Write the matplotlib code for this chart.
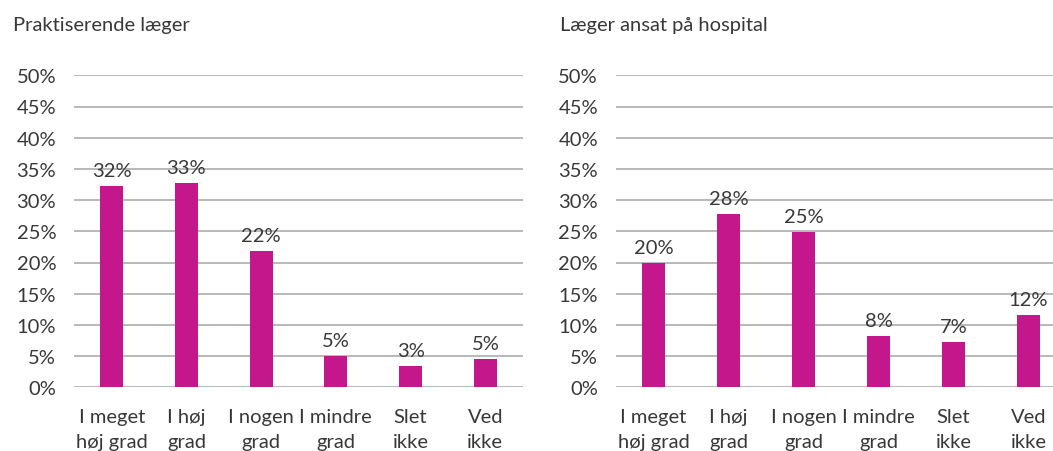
import matplotlib
matplotlib.use("Agg")
import matplotlib.pyplot as plt
import matplotlib.ticker as mtick

categories = ["I meget\nhøj grad", "I høj\ngrad", "I nogen\ngrad", "I mindre\ngrad", "Slet\nikke", "Ved\nikke"]
praktiserende = [32.3, 32.8, 21.9, 5.0, 3.4, 4.6]
hospital = [20.0, 27.8, 24.9, 8.3, 7.3, 11.6]
titles = ["Praktiserende læger", "Læger ansat på hospital"]

plt.rcParams['font.family'] = ['Lato', 'DejaVu Sans']
txtcol = '#383838'
barcol = '#C5178C'
fs = 14.5

W, H = 1053, 452
fig = plt.figure(figsize=(W/100, H/100), dpi=100)

def panel(left_px, width_px, vals, title, title_x):
    ax = fig.add_axes([left_px/W, (H-388.3)/H, width_px/W, (388.3-76.3)/H])
    x = range(len(vals))
    ax.bar(x, vals, width=0.31, color=barcol, zorder=3)
    for xi, v in zip(x, vals):
        ax.annotate("%d%%" % round(v), (xi, v), xytext=(0, 5), textcoords='offset points',
                    ha='center', va='bottom', fontsize=fs, color=txtcol)
    ax.set_xlim(-0.5, 5.5)
    ax.set_ylim(0, 50)
    ax.set_yticks(range(0, 51, 5))
    ax.yaxis.set_major_formatter(mtick.FormatStrFormatter('%d%%'))
    ax.set_xticks(list(x))
    ax.set_xticklabels(categories, linespacing=1.55)
    ax.tick_params(axis='both', length=0, labelsize=fs, labelcolor=txtcol)
    ax.tick_params(axis='y', pad=13)
    ax.tick_params(axis='x', pad=15)
    ax.grid(axis='y', color='#b3b3b3', linewidth=1.3, zorder=0)
    for s in ax.spines.values():
        s.set_visible(False)
    fig.text(title_x/W, 1 - 25/H, title, fontsize=fs, color=txtcol,
             ha='left', va='center')
    return ax

panel(74.3, 448.4, praktiserende, titles[0], 13)
panel(616, 450, hospital, titles[1], 560)

fig.savefig("out.png", dpi=100)
